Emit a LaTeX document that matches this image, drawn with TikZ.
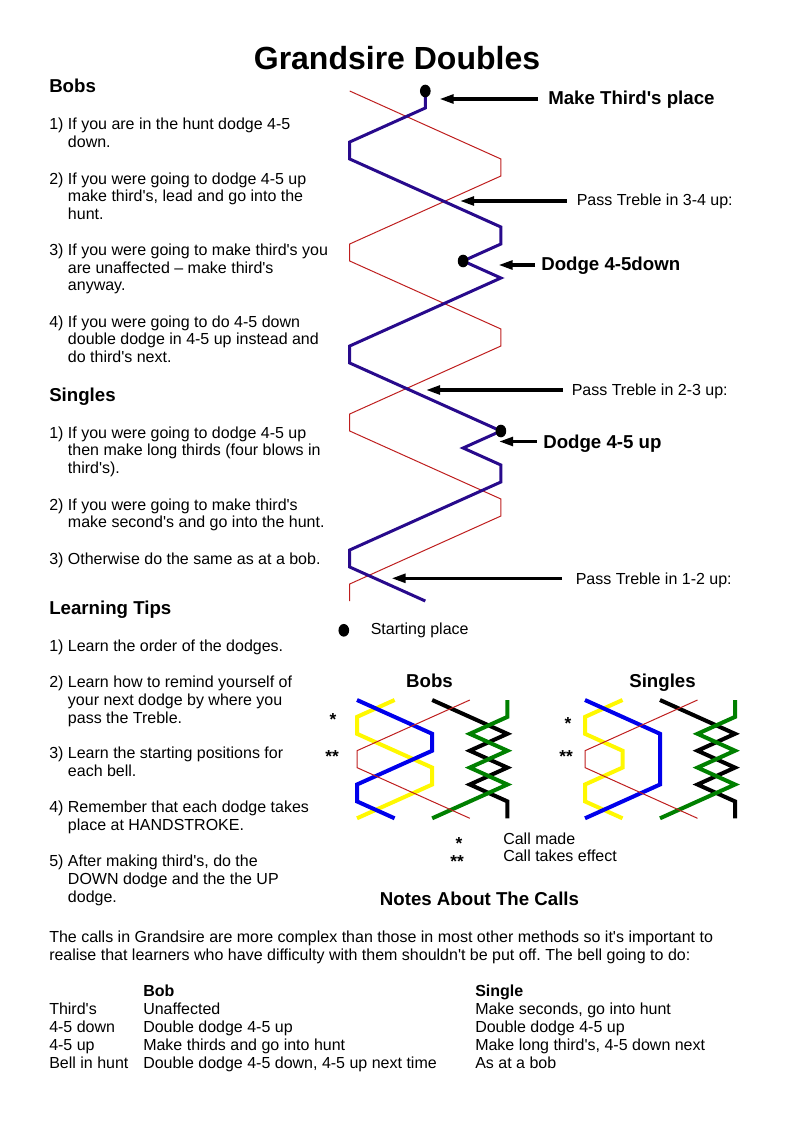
\documentclass[tikz,border=0pt]{standalone}
\usepackage{fontspec}
\setmainfont{Liberation Sans}
\usetikzlibrary{arrows.meta,shapes.geometric}
\definecolor{mainblue}{RGB}{40,10,140}
\definecolor{treble}{RGB}{190,30,30}
\definecolor{sblue}{RGB}{0,0,235}
\definecolor{syellow}{RGB}{255,248,0}
\definecolor{sgreen}{RGB}{0,128,0}
\newcommand\ap{\textquotesingle}
\frenchspacing
\begin{document}
\begin{tikzpicture}[x=0.75pt,y=-0.75pt,
  txt/.style={anchor=base west,inner sep=0pt,font=\fontsize{12}{14}\selectfont},
  hd/.style={anchor=base west,inner sep=0pt,font=\fontsize{14}{16}\selectfont\bfseries},
  hdc/.style={anchor=base,inner sep=0pt,font=\fontsize{14}{16}\selectfont\bfseries},
  bhd/.style={anchor=base west,inner sep=0pt,font=\fontsize{12}{14}\selectfont\bfseries},
  star/.style={anchor=base,inner sep=0pt,font=\fontsize{13}{14}\selectfont\bfseries},
  pointer/.style={line width=2.4pt,-{Triangle[length=10.5pt,width=6.5pt]}},
  dot/.style={shape=ellipse,fill=black,inner sep=0pt,minimum width=8pt,minimum height=9.5pt},
  methodline/.style={line width=2.25pt,mainblue},
  trebleline/.style={line width=0.75pt,treble},
  smallline/.style={line width=3pt}]
\useasboundingbox (0,0) rectangle (794,1123);

% title
\node[anchor=base,inner sep=0pt,font=\fontsize{24}{28}\selectfont\bfseries] (title) at (397,69.5) {Grandsire Doubles};

% ---------- left column: Bobs ----------
\node[hd] (hbobs) at (49,92.5) {Bobs};
\node[txt] (b1a) at (49,130) {1) If you are in the hunt dodge 4-5};
\node[txt] (b1b) at (67.7,147.5) {down.};
\node[txt] (b2a) at (49,184.3) {2) If you were going to dodge 4-5 up};
\node[txt] (b2b) at (67.7,201.8) {make third\ap s, lead and go into the};
\node[txt] (b2c) at (67.7,219.3) {hunt.};
\node[txt] (b3a) at (49,255.7) {3) If you were going to make third\ap s you};
\node[txt] (b3b) at (67.7,273.2) {are unaffected – make third\ap s};
\node[txt] (b3c) at (67.7,290.7) {anyway.};
\node[txt] (b4a) at (49,327.3) {4) If you were going to do 4-5 down};
\node[txt] (b4b) at (67.7,344.8) {double dodge in 4-5 up instead and};
\node[txt] (b4c) at (67.7,362.3) {do third\ap s next.};

% ---------- Singles ----------
\node[hd] (hsingles) at (49,401.7) {Singles};
\node[txt] (s1a) at (49,438.3) {1) If you were going to dodge 4-5 up};
\node[txt] (s1b) at (67.7,455.8) {then make long thirds (four blows in};
\node[txt] (s1c) at (67.7,473.3) {third\ap s).};
\node[txt] (s2a) at (49,510) {2) If you were going to make third\ap s};
\node[txt] (s2b) at (67.7,527.5) {make second\ap s and go into the hunt.};
\node[txt] (s3a) at (49,564.3) {3) Otherwise do the same as at a bob.};

% ---------- Learning Tips ----------
\node[hd] (htips) at (49,614.3) {Learning Tips};
\node[txt] (l1a) at (49,651.5) {1) Learn the order of the dodges.};
\node[txt] (l2a) at (49,687.5) {2) Learn how to remind yourself of};
\node[txt] (l2b) at (67.7,705.3) {your next dodge by where you};
\node[txt] (l2c) at (67.7,723.1) {pass the Treble.};
\node[txt] (l3a) at (49,758.5) {3) Learn the starting positions for};
\node[txt] (l3b) at (67.7,776.3) {each bell.};
\node[txt] (l4a) at (49,812.5) {4) Remember that each dodge takes};
\node[txt] (l4b) at (67.7,830.3) {place at HANDSTROKE.};
\node[txt] (l5a) at (49,866.5) {5) After making third\ap s, do the};
\node[txt] (l5b) at (67.7,884.3) {DOWN dodge and the the UP};
\node[txt] (l5c) at (67.7,902.1) {dodge.};

% ---------- main method diagram ----------
\begin{scope}[shift={(349.7,91)},x=28.35pt,y=-12.75pt]
  \draw[trebleline] (0,0)--(4,4)--(4,5)--(0,9)--(0,10)--(4,14)--(4,15)--(0,19)--(0,20)--(4,24)--(4,25)--(0,29)--(0,30);
  \draw[methodline] (2,0)--(2,1)--(0,3)--(0,4)--(4,8)--(4,9)--(3,10)--(4,11)--(0,15)--(0,16)--(4,20)--(3,21)--(4,22)--(4,23)--(0,27)--(0,28)--(2,30);
  \node[dot] (start) at (2,0) {};
  \node[dot] (dodgedown) at (3,10) {};
  \node[dot] (dodgeup) at (4,20) {};
\end{scope}

% labels and pointers
\node[hd] (lthird) at (548,105) {Make Third\ap s place};
\coordinate (athird1) at (538,99);
\coordinate (athird2) at (439.5,99);
\draw[pointer] (athird1) -- (athird2);

\node[txt] (lp34) at (576.5,205) {Pass Treble in 3-4 up:};
\coordinate (ap341) at (566.5,201);
\coordinate (ap342) at (460,201);
\draw[pointer] (ap341) -- (ap342);

\node[hd] (ldd) at (541,270.5) {Dodge 4-5down};
\coordinate (add1) at (535,265);
\coordinate (add2) at (498.5,265);
\draw[pointer] (add1) -- (add2);

\node[txt] (lp23) at (571.5,395) {Pass Treble in 2-3 up:};
\coordinate (ap231) at (562.5,390);
\coordinate (ap232) at (426,390);
\draw[pointer] (ap231) -- (ap232);

\node[hd] (ldu) at (543,448.3) {Dodge 4-5 up};
\coordinate (adu1) at (536.5,441.5);
\coordinate (adu2) at (499,441.5);
\draw[pointer] (adu1) -- (adu2);

\node[txt] (lp12) at (575.5,584) {Pass Treble in 1-2 up:};
\coordinate (ap121) at (562,578.3);
\coordinate (ap122) at (391.5,578.3);
\draw[pointer] (ap121) -- (ap122);

\node[dot] (legdot) at (343.8,630.3) {};
\node[txt] (lstart) at (370.5,634) {Starting place};

% ---------- small diagrams ----------
\node[hdc] (tbobs) at (429.5,687.3) {Bobs};
\node[hdc] (tsingles) at (662.5,687.3) {Singles};

\begin{scope}[shift={(357,700)},x=28.2pt,y=-12.675pt]
  \draw[smallline,syellow] (1,0)--(0,1)--(0,2)--(2,4)--(2,5)--(0,7);
  \draw[smallline,sblue] (0,0)--(2,2)--(2,3)--(0,5)--(0,6)--(1,7);
  \draw[smallline,black] (2,0)--(4,2)--(3,3)--(4,4)--(3,5)--(4,6)--(4,7);
  \draw[smallline,sgreen] (4,0)--(4,1)--(3,2)--(4,3)--(3,4)--(4,5)--(2,7);
  \draw[trebleline] (3,0)--(0,3)--(0,4)--(3,7);
\end{scope}
\node[star] (bstar1) at (333,725.5) {*};
\node[star] (bstar2) at (332,762) {**};

\begin{scope}[shift={(585,700)},x=28.125pt,y=-12.675pt]
  \draw[smallline,syellow] (1,0)--(0,1)--(0,2)--(1,3)--(1,4)--(0,5)--(0,6)--(1,7);
  \draw[smallline,sblue] (0,0)--(2,2)--(2,5)--(0,7);
  \draw[smallline,black] (2,0)--(4,2)--(3,3)--(4,4)--(3,5)--(4,6)--(4,7);
  \draw[smallline,sgreen] (4,0)--(4,1)--(3,2)--(4,3)--(3,4)--(4,5)--(2,7);
  \draw[trebleline] (3,0)--(0,3)--(0,4)--(3,7);
\end{scope}
\node[star] (sstar1) at (568,729.5) {*};
\node[star] (sstar2) at (566,762) {**};

% legend
\node[star] (kstar1) at (459,849) {*};
\node[txt] (kmade) at (503,844.3) {Call made};
\node[star] (kstar2) at (457,867) {**};
\node[txt] (keffect) at (503,861.7) {Call takes effect};

% ---------- notes ----------
\node[hdc] (notes) at (479.5,905.5) {Notes About The Calls};
\node[txt] (p1) at (49,942.5) {The calls in Grandsire are more complex than those in most other methods so it\ap s important to};
\node[txt] (p2) at (49,960.5) {realise that learners who have difficulty with them shouldn\ap t be put off. The bell going to do:};

\node[bhd] (hbob) at (143,996.5) {Bob};
\node[bhd] (hsingle) at (475,996.5) {Single};
\node[txt] (r1a) at (49,1014.5) {Third\ap s};
\node[txt] (r1b) at (143,1014.5) {Unaffected};
\node[txt] (r1c) at (475,1014.5) {Make seconds, go into hunt};
\node[txt] (r2a) at (49,1032.5) {4-5 down};
\node[txt] (r2b) at (143,1032.5) {Double dodge 4-5 up};
\node[txt] (r2c) at (475,1032.5) {Double dodge 4-5 up};
\node[txt] (r3a) at (49,1050.5) {4-5 up};
\node[txt] (r3b) at (143,1050.5) {Make thirds and go into hunt};
\node[txt] (r3c) at (475,1050.5) {Make long third\ap s, 4-5 down next};
\node[txt] (r4a) at (49,1068.5) {Bell in hunt};
\node[txt] (r4b) at (143,1068.5) {Double dodge 4-5 down, 4-5 up next time};
\node[txt] (r4c) at (475,1068.5) {As at a bob};
\end{tikzpicture}
\end{document}
